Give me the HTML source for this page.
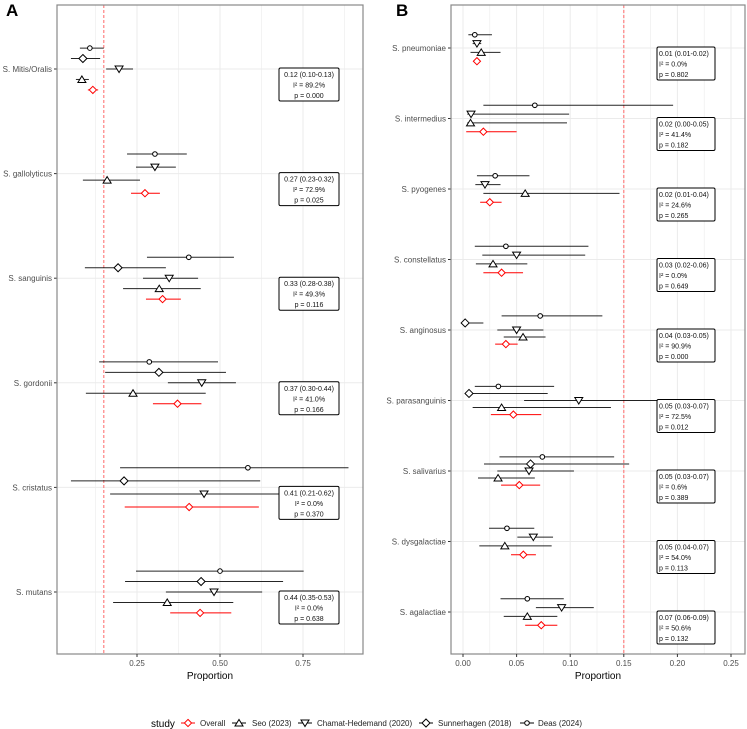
<!DOCTYPE html>
<html><head><meta charset="utf-8"><style>
html,body{margin:0;padding:0;background:#fff;}
svg{display:block;font-family:"Liberation Sans",sans-serif;}
</style></head><body>
<svg id="fig" width="747" height="729" viewBox="0 0 747 729"></svg>
<script>
// ---------- DATA ----------
const studies = ["Deas (2024)","Sunnerhagen (2018)","Chamat-Hedemand (2020)","Seo (2023)","Overall"];
const catsA = ["S. Mitis/Oralis","S. gallolyticus","S. sanguinis","S. gordonii","S. cristatus","S. mutans"];
// each row: [study index, estimate, lower, upper]
const rowsA = [
 [[0,0.108,0.078,0.150],[1,0.087,0.051,0.139],[2,0.196,0.157,0.238],[3,0.084,0.066,0.105],[4,0.117,0.102,0.133]],
 [[0,0.304,0.220,0.400],[2,0.304,0.247,0.367],[3,0.160,0.087,0.259],[4,0.274,0.232,0.319]],
 [[0,0.406,0.280,0.542],[1,0.193,0.093,0.337],[2,0.347,0.268,0.434],[3,0.317,0.208,0.442],[4,0.327,0.277,0.382]],
 [[0,0.287,0.136,0.494],[1,0.316,0.154,0.518],[2,0.445,0.343,0.548],[3,0.238,0.096,0.457],[4,0.372,0.298,0.444]],
 [[0,0.584,0.199,0.887],[1,0.211,0.051,0.621],[2,0.452,0.169,0.681],[4,0.407,0.213,0.617]],
 [[0,0.500,0.247,0.752],[1,0.443,0.214,0.690],[2,0.482,0.337,0.627],[3,0.341,0.178,0.540],[4,0.440,0.350,0.534]]
];
const annA = [["0.12 (0.10-0.13)","89.2%","0.000"],["0.27 (0.23-0.32)","72.9%","0.025"],["0.33 (0.28-0.38)","49.3%","0.116"],["0.37 (0.30-0.44)","41.0%","0.166"],["0.41 (0.21-0.62)","0.0%","0.370"],["0.44 (0.35-0.53)","0.0%","0.638"]];
const ticksA = [0.25,0.50,0.75];
const tickLabelsA = ["0.25","0.50","0.75"];

const catsB = ["S. pneumoniae","S. intermedius","S. pyogenes","S. constellatus","S. anginosus","S. parasanguinis","S. salivarius","S. dysgalactiae","S. agalactiae"];
const rowsB = [
 [[0,0.011,0.005,0.027],[2,0.013,0.009,0.017],[3,0.017,0.007,0.035],[4,0.013,0.011,0.016]],
 [[0,0.067,0.019,0.196],[2,0.0075,0.004,0.099],[3,0.007,0.004,0.097],[4,0.019,0.003,0.050]],
 [[0,0.030,0.013,0.062],[2,0.0205,0.0115,0.035],[3,0.058,0.019,0.146],[4,0.025,0.016,0.036]],
 [[0,0.040,0.011,0.117],[2,0.050,0.018,0.114],[3,0.028,0.012,0.060],[4,0.036,0.019,0.056]],
 [[0,0.072,0.036,0.130],[1,0.002,0.002,0.019],[2,0.050,0.032,0.075],[3,0.056,0.038,0.077],[4,0.040,0.030,0.051]],
 [[0,0.033,0.011,0.085],[1,0.0056,0.004,0.079],[2,0.108,0.057,0.182],[3,0.036,0.009,0.138],[4,0.047,0.026,0.073]],
 [[0,0.074,0.034,0.141],[1,0.063,0.0196,0.155],[2,0.0616,0.032,0.1035],[3,0.0327,0.014,0.067],[4,0.0525,0.0355,0.072]],
 [[0,0.041,0.0243,0.0665],[2,0.0656,0.0507,0.084],[3,0.039,0.0152,0.0827],[4,0.0563,0.0448,0.068]],
 [[0,0.060,0.035,0.094],[2,0.092,0.068,0.122],[3,0.060,0.038,0.088],[4,0.073,0.058,0.088]]
];
const annB = [["0.01 (0.01-0.02)","0.0%","0.802"],["0.02 (0.00-0.05)","41.4%","0.182"],["0.02 (0.01-0.04)","24.6%","0.265"],["0.03 (0.02-0.06)","0.0%","0.649"],["0.04 (0.03-0.05)","90.9%","0.000"],["0.05 (0.03-0.07)","72.5%","0.012"],["0.05 (0.03-0.07)","0.6%","0.389"],["0.05 (0.04-0.07)","54.0%","0.113"],["0.07 (0.06-0.09)","50.6%","0.132"]];
const ticksB = [0,0.05,0.10,0.15,0.20,0.25];
const tickLabelsB = ["0.00","0.05","0.10","0.15","0.20","0.25"];
const refLine = 0.15;

// ---------- DRAW ----------
const NS="http://www.w3.org/2000/svg";
const svg=document.getElementById('fig');
function mk(tag,attrs,parent){const e=document.createElementNS(NS,tag);for(const k in attrs)e.setAttribute(k,attrs[k]);(parent||svg).appendChild(e);return e;}

function marker(g,shape,cx,cy,color){
  let e;
  if(shape===0){e=mk('circle',{cx:cx,cy:cy,r:2.3,fill:'#fff',stroke:color,'stroke-width':1},g);}
  else if(shape===1||shape===4){const s=shape===1?4:3.6;e=mk('polygon',{points:`${cx},${cy-s} ${cx+s},${cy} ${cx},${cy+s} ${cx-s},${cy}`,fill:'#fff',stroke:color,'stroke-width':1},g);}
  else if(shape===2){e=mk('polygon',{points:`${cx-4},${cy-3} ${cx+4},${cy-3} ${cx},${cy+3.5}`,fill:'#fff',stroke:color,'stroke-width':1},g);}
  else {e=mk('polygon',{points:`${cx-4},${cy+3} ${cx+4},${cy+3} ${cx},${cy-3.5}`,fill:'#fff',stroke:color,'stroke-width':1},g);}
  return e;
}

function panel(o){
  const g=mk('g',{});
  
  
  const xs=v=>o.x0+(v-o.v0)*o.k;
  const n=o.cats.length;
  const spacing=o.spacing;
  const cy=i=>o.first+i*spacing;
  for(let v=o.gmin; v<=o.gmax+1e-9; v+=o.gstep/2){
    const x=xs(v); if(x<o.left||x>o.right)continue;
    const ln=mk('line',{x1:x,x2:x,y1:o.top,y2:o.bottom,stroke:'#ebebeb','stroke-width':(Math.abs(Math.round(v/o.gstep)*o.gstep-v)<1e-9)?1:0.6},g);
    
  }
  for(let i=0;i<n;i++){
    const ln=mk('line',{x1:o.left,x2:o.right,y1:cy(i),y2:cy(i),stroke:'#ebebeb','stroke-width':1},g);
    
  }
  const rl=mk('line',{x1:xs(refLine),x2:xs(refLine),y1:o.top,y2:o.bottom,stroke:'#f77','stroke-width':1.1,'stroke-dasharray':'3,2'},g);
  
  for(let i=0;i<n;i++){
    const rows=o.rows[i]; const m=rows.length; const W=spacing*0.5;
    rows.forEach((r,j)=>{
      const y=cy(i)+(j-(m-1)/2)*W/m;
      const col=r[0]===4?'#f00':'#000';
      const sg=mk('g',{},g);
      
      
      mk('line',{x1:xs(r[2]),x2:xs(r[3]),y1:y,y2:y,stroke:col,'stroke-width':1,opacity:r[0]===4?1:0.85},sg);
      marker(sg,r[0],xs(r[1]),y,col);
    });
    const a=o.ann[i];
    const bx=mk('rect',{x:o.boxX,y:cy(i)-1,width:o.boxW,height:33,rx:1.5,fill:'#fff',stroke:'#000','stroke-width':1},g);
    
    const lines=[a[0],"I² = "+a[1],"p = "+a[2]];
    lines.forEach((t,j)=>{
      const tx=mk('text',{x:o.center?o.boxX+o.boxW/2:o.boxX+2,y:cy(i)+8+j*10.5,'font-size':7,'text-anchor':o.center?'middle':'start',fill:'#111'},g);
      tx.textContent=t;
    });
    const lb=mk('text',{x:o.left-5,y:cy(i)+3,'font-size':8,'text-anchor':'end',fill:'#4d4d4d'},g);
    lb.textContent=o.cats[i];
    mk('line',{x1:o.left-3,x2:o.left,y1:cy(i),y2:cy(i),stroke:'#333','stroke-width':1},g);
  }
  const br=mk('rect',{x:o.left,y:o.top,width:o.right-o.left,height:o.bottom-o.top,fill:'none',stroke:'#888','stroke-width':1.2},g);
  
  o.ticks.forEach((v,j)=>{
    const x=xs(v);
    mk('line',{x1:x,x2:x,y1:o.bottom,y2:o.bottom+3,stroke:'#333','stroke-width':1},g);
    const t=mk('text',{x:x,y:o.bottom+12,'font-size':8,'text-anchor':'middle',fill:'#4d4d4d'},g);
    t.textContent=o.tickLabels[j];
  });
  const xt=mk('text',{x:(o.left+o.right)/2,y:o.bottom+25,'font-size':10,'text-anchor':'middle',fill:'#000'},g);
  xt.textContent='Proportion';
  const L=mk('text',{x:o.letterX,y:16,'font-size':17,'font-weight':'bold',fill:'#000'},g);
  L.textContent=o.letter;
}

panel({name:'panel-a',letter:'A',letterX:6,left:57,right:363,top:5,bottom:654,first:69,spacing:104.6,x0:137,v0:0.25,k:332,
  gmin:0,gmax:1,gstep:0.25,cats:catsA,rows:rowsA,ann:annA,ticks:ticksA,tickLabels:tickLabelsA,boxX:279,boxW:60,center:true});
panel({name:'panel-b',letter:'B',letterX:396,left:451,right:745,top:5,bottom:654,first:48,spacing:70.5,x0:463,v0:0,k:1072,
  gmin:0,gmax:0.3,gstep:0.05,cats:catsB,rows:rowsB,ann:annB,ticks:ticksB,tickLabels:tickLabelsB,boxX:657,boxW:58,center:false});

const lg=mk('g',{});


const st=mk('text',{x:151,y:727,'font-size':10,fill:'#000'},lg);st.textContent='study';
const legItems=[[4,188,200,'Overall'],[3,239,252,'Seo (2023)'],[2,305,317,'Chamat-Hedemand (2020)'],[1,426,438,'Sunnerhagen (2018)'],[0,527,538,'Deas (2024)']];
legItems.forEach(it=>{
  const e=mk('g',{},lg);
  
  
  const col=it[0]===4?'#f00':'#000';
  mk('line',{x1:it[1]-7,x2:it[1]+7,y1:723,y2:723,stroke:col,'stroke-width':1},e);
  marker(e,it[0],it[1],723,col);
  const t=mk('text',{x:it[2],y:726,'font-size':8,fill:'#222'},e);t.textContent=it[3];
});
</script>
</body></html>
